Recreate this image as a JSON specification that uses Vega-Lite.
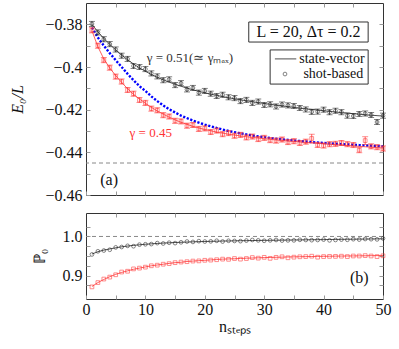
{
  "$schema": "https://vega.github.io/schema/vega-lite/v6.json",
  "padding": {"left": 8, "top": 2, "right": 5, "bottom": 5},
  "spacing": 8,
  "config": {
    "font": "Liberation Serif",
    "text": {"font": "Liberation Serif"},
    "view": {"stroke": "#333", "strokeWidth": 1},
    "axis": {"grid": false, "domain": false, "tickColor": "#999", "tickSize": -4, "labelFont": "Liberation Serif", "titleFont": "Liberation Serif", "labelFontSize": 16, "labelColor": "#111", "titleFontSize": 16, "titleFontWeight": "normal", "titleColor": "#111", "labelFlush": false, "labelOverlap": false, "labelBound": false}
  },
  "datasets": {
    "top": [
      {"n":1,"g":"b","sv":-0.3800,"s":-0.3798,"e":0.0012},{"n":2,"g":"b","sv":-0.3835,"s":-0.3838,"e":0.0012},{"n":3,"g":"b","sv":-0.3866,"s":-0.3870,"e":0.0012},{"n":4,"g":"b","sv":-0.3894,"s":-0.3893,"e":0.0012},{"n":5,"g":"b","sv":-0.3920,"s":-0.3918,"e":0.0012},
      {"n":6,"g":"b","sv":-0.3944,"s":-0.3947,"e":0.0012},{"n":7,"g":"b","sv":-0.3966,"s":-0.3962,"e":0.0012},{"n":8,"g":"b","sv":-0.3986,"s":-0.3995,"e":0.0012},{"n":9,"g":"b","sv":-0.4004,"s":-0.4000,"e":0.0012},{"n":10,"g":"b","sv":-0.4020,"s":-0.4010,"e":0.0012},
      {"n":11,"g":"b","sv":-0.4035,"s":-0.4030,"e":0.0012},{"n":12,"g":"b","sv":-0.4048,"s":-0.4044,"e":0.0012},{"n":13,"g":"b","sv":-0.4060,"s":-0.4062,"e":0.0012},{"n":14,"g":"b","sv":-0.4071,"s":-0.4058,"e":0.0012},{"n":15,"g":"b","sv":-0.4081,"s":-0.4085,"e":0.0012},
      {"n":16,"g":"b","sv":-0.4090,"s":-0.4076,"e":0.0012},{"n":17,"g":"b","sv":-0.4099,"s":-0.4105,"e":0.0012},{"n":18,"g":"b","sv":-0.4107,"s":-0.4098,"e":0.0012},{"n":19,"g":"b","sv":-0.4114,"s":-0.4120,"e":0.0012},{"n":20,"g":"b","sv":-0.4121,"s":-0.4112,"e":0.0012},
      {"n":21,"g":"b","sv":-0.4127,"s":-0.4125,"e":0.0012},{"n":22,"g":"b","sv":-0.4133,"s":-0.4136,"e":0.0012},{"n":23,"g":"b","sv":-0.4139,"s":-0.4130,"e":0.0012},{"n":24,"g":"b","sv":-0.4144,"s":-0.4142,"e":0.0012},{"n":25,"g":"b","sv":-0.4149,"s":-0.4146,"e":0.0012},
      {"n":26,"g":"b","sv":-0.4154,"s":-0.4160,"e":0.0012},{"n":27,"g":"b","sv":-0.4158,"s":-0.4154,"e":0.0012},{"n":28,"g":"b","sv":-0.4163,"s":-0.4168,"e":0.0012},{"n":29,"g":"b","sv":-0.4167,"s":-0.4162,"e":0.0012},{"n":30,"g":"b","sv":-0.4171,"s":-0.4178,"e":0.0012},
      {"n":31,"g":"b","sv":-0.4175,"s":-0.4175,"e":0.0012},{"n":32,"g":"b","sv":-0.4179,"s":-0.4185,"e":0.0012},{"n":33,"g":"b","sv":-0.4182,"s":-0.4176,"e":0.0012},{"n":34,"g":"b","sv":-0.4186,"s":-0.4180,"e":0.0012},{"n":35,"g":"b","sv":-0.4189,"s":-0.4183,"e":0.0012},
      {"n":36,"g":"b","sv":-0.4193,"s":-0.4192,"e":0.0012},{"n":37,"g":"b","sv":-0.4196,"s":-0.4199,"e":0.0012},{"n":38,"g":"b","sv":-0.4199,"s":-0.4210,"e":0.0012},{"n":39,"g":"b","sv":-0.4202,"s":-0.4209,"e":0.0012},{"n":40,"g":"b","sv":-0.4205,"s":-0.4200,"e":0.0012},
      {"n":41,"g":"b","sv":-0.4208,"s":-0.4212,"e":0.0012},{"n":42,"g":"b","sv":-0.4211,"s":-0.4205,"e":0.0012},{"n":43,"g":"b","sv":-0.4214,"s":-0.4212,"e":0.0012},{"n":44,"g":"b","sv":-0.4216,"s":-0.4228,"e":0.0012},{"n":45,"g":"b","sv":-0.4219,"s":-0.4230,"e":0.0012},
      {"n":46,"g":"b","sv":-0.4221,"s":-0.4220,"e":0.0012},{"n":47,"g":"b","sv":-0.4224,"s":-0.4218,"e":0.0012},{"n":48,"g":"b","sv":-0.4226,"s":-0.4225,"e":0.0012},{"n":49,"g":"b","sv":-0.4228,"s":-0.4258,"e":0.0012},{"n":50,"g":"b","sv":-0.4230,"s":-0.4228,"e":0.0012},
      {"n":1,"g":"r","sv":-0.3830,"s":-0.3828,"e":0.0012},{"n":2,"g":"r","sv":-0.3905,"s":-0.3900,"e":0.0012},{"n":3,"g":"r","sv":-0.3962,"s":-0.3968,"e":0.0012},{"n":4,"g":"r","sv":-0.4005,"s":-0.4003,"e":0.0012},{"n":5,"g":"r","sv":-0.4040,"s":-0.4045,"e":0.0012},
      {"n":6,"g":"r","sv":-0.4072,"s":-0.4068,"e":0.0012},{"n":7,"g":"r","sv":-0.4102,"s":-0.4108,"e":0.0012},{"n":8,"g":"r","sv":-0.4128,"s":-0.4125,"e":0.0012},{"n":9,"g":"r","sv":-0.4150,"s":-0.4155,"e":0.0012},{"n":10,"g":"r","sv":-0.4170,"s":-0.4168,"e":0.0012},
      {"n":11,"g":"r","sv":-0.4189,"s":-0.4195,"e":0.0012},{"n":12,"g":"r","sv":-0.4206,"s":-0.4203,"e":0.0012},{"n":13,"g":"r","sv":-0.4221,"s":-0.4226,"e":0.0012},{"n":14,"g":"r","sv":-0.4235,"s":-0.4232,"e":0.0012},{"n":15,"g":"r","sv":-0.4248,"s":-0.4252,"e":0.0012},
      {"n":16,"g":"r","sv":-0.4259,"s":-0.4255,"e":0.0012},{"n":17,"g":"r","sv":-0.4269,"s":-0.4275,"e":0.0012},{"n":18,"g":"r","sv":-0.4278,"s":-0.4272,"e":0.0012},{"n":19,"g":"r","sv":-0.4286,"s":-0.4290,"e":0.0012},{"n":20,"g":"r","sv":-0.4293,"s":-0.4288,"e":0.0012},
      {"n":21,"g":"r","sv":-0.4299,"s":-0.4305,"e":0.0012},{"n":22,"g":"r","sv":-0.4305,"s":-0.4298,"e":0.0012},{"n":23,"g":"r","sv":-0.4310,"s":-0.4315,"e":0.0012},{"n":24,"g":"r","sv":-0.4315,"s":-0.4310,"e":0.0012},{"n":25,"g":"r","sv":-0.4319,"s":-0.4322,"e":0.0012},
      {"n":26,"g":"r","sv":-0.4323,"s":-0.4318,"e":0.0012},{"n":27,"g":"r","sv":-0.4327,"s":-0.4330,"e":0.0012},{"n":28,"g":"r","sv":-0.4330,"s":-0.4326,"e":0.0012},{"n":29,"g":"r","sv":-0.4333,"s":-0.4338,"e":0.0012},{"n":30,"g":"r","sv":-0.4336,"s":-0.4332,"e":0.0012},
      {"n":31,"g":"r","sv":-0.4339,"s":-0.4343,"e":0.0012},{"n":32,"g":"r","sv":-0.4342,"s":-0.4345,"e":0.0012},{"n":33,"g":"r","sv":-0.4344,"s":-0.4340,"e":0.0012},{"n":34,"g":"r","sv":-0.4347,"s":-0.4352,"e":0.0012},{"n":35,"g":"r","sv":-0.4349,"s":-0.4348,"e":0.0012},
      {"n":36,"g":"r","sv":-0.4351,"s":-0.4356,"e":0.0012},{"n":37,"g":"r","sv":-0.4354,"s":-0.4350,"e":0.0012},{"n":38,"g":"r","sv":-0.4356,"s":-0.4335,"e":0.0020},{"n":39,"g":"r","sv":-0.4358,"s":-0.4365,"e":0.0012},{"n":40,"g":"r","sv":-0.4360,"s":-0.4368,"e":0.0012},
      {"n":41,"g":"r","sv":-0.4362,"s":-0.4362,"e":0.0012},{"n":42,"g":"r","sv":-0.4364,"s":-0.4360,"e":0.0012},{"n":43,"g":"r","sv":-0.4366,"s":-0.4356,"e":0.0012},{"n":44,"g":"r","sv":-0.4368,"s":-0.4362,"e":0.0012},{"n":45,"g":"r","sv":-0.4370,"s":-0.4366,"e":0.0012},
      {"n":46,"g":"r","sv":-0.4372,"s":-0.4390,"e":0.0012},{"n":47,"g":"r","sv":-0.4374,"s":-0.4345,"e":0.0018},{"n":48,"g":"r","sv":-0.4376,"s":-0.4372,"e":0.0012},{"n":49,"g":"r","sv":-0.4378,"s":-0.4376,"e":0.0012},{"n":50,"g":"r","sv":-0.4380,"s":-0.4382,"e":0.0012}
    ],
    "blue": [
      {"n":1,"v":-0.3815},{"n":2,"v":-0.3862},{"n":3,"v":-0.3900},{"n":4,"v":-0.3935},{"n":5,"v":-0.3968},{"n":6,"v":-0.4000},{"n":7,"v":-0.4032},{"n":8,"v":-0.4062},{"n":9,"v":-0.4090},{"n":10,"v":-0.4112},
      {"n":11,"v":-0.4138},{"n":12,"v":-0.4160},{"n":13,"v":-0.4180},{"n":14,"v":-0.4198},{"n":16,"v":-0.4228},{"n":18,"v":-0.4251},{"n":20,"v":-0.4270},{"n":22,"v":-0.4286},{"n":24,"v":-0.4300},{"n":26,"v":-0.4311},
      {"n":28,"v":-0.4321},{"n":30,"v":-0.4329},{"n":32,"v":-0.4336},{"n":34,"v":-0.4342},{"n":36,"v":-0.4347},{"n":38,"v":-0.4352},{"n":40,"v":-0.4356},{"n":42,"v":-0.4360},{"n":44,"v":-0.4363},{"n":46,"v":-0.4366},{"n":48,"v":-0.4369},{"n":50,"v":-0.4372}
    ],
    "bot": [
      {"n":1,"g":"b","sv":0.955,"s":0.954},{"n":2,"g":"b","sv":0.961,"s":0.962},{"n":3,"g":"b","sv":0.965,"s":0.964},{"n":4,"g":"b","sv":0.968,"s":0.966},{"n":5,"g":"b","sv":0.971,"s":0.972},
      {"n":6,"g":"b","sv":0.9735,"s":0.973},{"n":7,"g":"b","sv":0.9755,"s":0.976},{"n":8,"g":"b","sv":0.9772,"s":0.975},{"n":9,"g":"b","sv":0.9787,"s":0.979},{"n":10,"g":"b","sv":0.980,"s":0.980},
      {"n":11,"g":"b","sv":0.9811,"s":0.9805},{"n":12,"g":"b","sv":0.9821,"s":0.983},{"n":13,"g":"b","sv":0.983,"s":0.982},{"n":14,"g":"b","sv":0.9838,"s":0.984},{"n":15,"g":"b","sv":0.9845,"s":0.983},
      {"n":16,"g":"b","sv":0.9851,"s":0.985},{"n":17,"g":"b","sv":0.9857,"s":0.987},{"n":18,"g":"b","sv":0.9862,"s":0.986},{"n":19,"g":"b","sv":0.9867,"s":0.988},{"n":20,"g":"b","sv":0.9871,"s":0.987},
      {"n":21,"g":"b","sv":0.9875,"s":0.9875},{"n":22,"g":"b","sv":0.9879,"s":0.989},{"n":23,"g":"b","sv":0.9882,"s":0.987},{"n":24,"g":"b","sv":0.9885,"s":0.989},{"n":25,"g":"b","sv":0.9888,"s":0.9885},
      {"n":26,"g":"b","sv":0.9891,"s":0.988},{"n":27,"g":"b","sv":0.9893,"s":0.9895},{"n":28,"g":"b","sv":0.9896,"s":0.991},{"n":29,"g":"b","sv":0.9898,"s":0.990},{"n":30,"g":"b","sv":0.990,"s":0.989},
      {"n":31,"g":"b","sv":0.9902,"s":0.990},{"n":32,"g":"b","sv":0.9904,"s":0.991},{"n":33,"g":"b","sv":0.9906,"s":0.9895},{"n":34,"g":"b","sv":0.9908,"s":0.990},{"n":35,"g":"b","sv":0.991,"s":0.990},
      {"n":36,"g":"b","sv":0.9912,"s":0.9915},{"n":37,"g":"b","sv":0.9914,"s":0.991},{"n":38,"g":"b","sv":0.9916,"s":0.9905},{"n":39,"g":"b","sv":0.9918,"s":0.991},{"n":40,"g":"b","sv":0.992,"s":0.992},
      {"n":41,"g":"b","sv":0.9922,"s":0.990},{"n":42,"g":"b","sv":0.9924,"s":0.991},{"n":43,"g":"b","sv":0.9926,"s":0.992},{"n":44,"g":"b","sv":0.9928,"s":0.9915},{"n":45,"g":"b","sv":0.993,"s":0.993},
      {"n":46,"g":"b","sv":0.9932,"s":0.992},{"n":47,"g":"b","sv":0.9934,"s":0.9935},{"n":48,"g":"b","sv":0.9936,"s":0.993},{"n":49,"g":"b","sv":0.9938,"s":0.9925},{"n":50,"g":"b","sv":0.994,"s":0.995},
      {"n":1,"g":"r","sv":0.872,"s":0.871},{"n":2,"g":"r","sv":0.882,"s":0.882},{"n":3,"g":"r","sv":0.890,"s":0.891},{"n":4,"g":"r","sv":0.897,"s":0.896},{"n":5,"g":"r","sv":0.903,"s":0.902},
      {"n":6,"g":"r","sv":0.908,"s":0.909},{"n":7,"g":"r","sv":0.912,"s":0.911},{"n":8,"g":"r","sv":0.916,"s":0.917},{"n":9,"g":"r","sv":0.919,"s":0.919},{"n":10,"g":"r","sv":0.922,"s":0.9215},
      {"n":11,"g":"r","sv":0.925,"s":0.925},{"n":12,"g":"r","sv":0.927,"s":0.9265},{"n":13,"g":"r","sv":0.929,"s":0.929},{"n":14,"g":"r","sv":0.931,"s":0.9305},{"n":15,"g":"r","sv":0.933,"s":0.933},
      {"n":16,"g":"r","sv":0.934,"s":0.9345},{"n":17,"g":"r","sv":0.936,"s":0.9355},{"n":18,"g":"r","sv":0.937,"s":0.937},{"n":19,"g":"r","sv":0.938,"s":0.9375},{"n":20,"g":"r","sv":0.939,"s":0.939},
      {"n":21,"g":"r","sv":0.940,"s":0.9395},{"n":22,"g":"r","sv":0.941,"s":0.9405},{"n":23,"g":"r","sv":0.942,"s":0.942},{"n":24,"g":"r","sv":0.9425,"s":0.9415},{"n":25,"g":"r","sv":0.943,"s":0.9435},
      {"n":26,"g":"r","sv":0.9437,"s":0.942},{"n":27,"g":"r","sv":0.9443,"s":0.9435},{"n":28,"g":"r","sv":0.9449,"s":0.946},{"n":29,"g":"r","sv":0.9454,"s":0.9445},{"n":30,"g":"r","sv":0.9459,"s":0.9465},
      {"n":31,"g":"r","sv":0.9463,"s":0.944},{"n":32,"g":"r","sv":0.9467,"s":0.9465},{"n":33,"g":"r","sv":0.9471,"s":0.948},{"n":34,"g":"r","sv":0.9475,"s":0.9455},{"n":35,"g":"r","sv":0.9478,"s":0.947},
      {"n":36,"g":"r","sv":0.9481,"s":0.948},{"n":37,"g":"r","sv":0.9484,"s":0.9485},{"n":38,"g":"r","sv":0.9487,"s":0.9495},{"n":39,"g":"r","sv":0.949,"s":0.947},{"n":40,"g":"r","sv":0.9492,"s":0.9485},
      {"n":41,"g":"r","sv":0.9494,"s":0.949},{"n":42,"g":"r","sv":0.9496,"s":0.949},{"n":43,"g":"r","sv":0.9498,"s":0.9495},{"n":44,"g":"r","sv":0.950,"s":0.9485},{"n":45,"g":"r","sv":0.9502,"s":0.950},
      {"n":46,"g":"r","sv":0.9504,"s":0.950},{"n":47,"g":"r","sv":0.9506,"s":0.951},{"n":48,"g":"r","sv":0.9508,"s":0.950},{"n":49,"g":"r","sv":0.951,"s":0.9485},{"n":50,"g":"r","sv":0.9512,"s":0.9505}
    ]
  },
  "vconcat": [
    {
      "width": 297,
      "height": 192,
      "layer": [
        {
          "data": {"values": [{"y": -0.445}]},
          "mark": {"type": "rule", "color": "#888", "strokeDash": [4, 3], "strokeWidth": 1},
          "encoding": {"y": {"field": "y", "type": "quantitative", "scale": {"domain": [-0.46, -0.37]}, "axis": null}}
        },
        {
          "data": {"name": "blue"},
          "mark": {"type": "line", "color": "#0000ff", "strokeWidth": 2.4, "strokeDash": [2.2, 1.6]},
          "encoding": {
            "x": {"field": "n", "type": "quantitative", "scale": {"domain": [0, 50]}, "axis": null},
            "y": {"field": "v", "type": "quantitative", "axis": null}
          }
        },
        {
          "data": {"name": "top"},
          "transform": [{"filter": "datum.g == 'b'"}],
          "mark": {"type": "line", "color": "#222", "strokeWidth": 0.8},
          "encoding": {
            "x": {"field": "n", "type": "quantitative", "axis": {"orient": "bottom", "values": [0,5,10,15,20,25,30,35,40,45,50], "labels": false, "title": null}},
            "y": {"field": "sv", "type": "quantitative", "axis": {"orient": "left", "values": [-0.46,-0.45,-0.44,-0.43,-0.42,-0.41,-0.4,-0.39,-0.38], "labelExpr": "abs(round(datum.value*100))%2==0 ? format(datum.value,'~g') : ''", "labelPadding": 8, "title": "E₀/L", "titleFontStyle": "italic", "titleX": -61}}
          }
        },
        {
          "data": {"name": "top"},
          "transform": [{"filter": "datum.g == 'r'"}],
          "mark": {"type": "line", "color": "#ff3333", "strokeWidth": 0.8},
          "encoding": {
            "x": {"field": "n", "type": "quantitative", "axis": {"orient": "top", "values": [5,10,15,20,25,30,35,40,45], "labels": false, "title": null}},
            "y": {"field": "sv", "type": "quantitative", "axis": {"orient": "right", "values": [-0.45,-0.44,-0.43,-0.42,-0.41,-0.4,-0.39,-0.38], "labels": false, "title": null}}
          }
        },
        {
          "data": {"name": "top"},
          "transform": [{"filter": "datum.g == 'b'"}],
          "mark": {"type": "errorbar", "color": "#222", "ticks": {"size": 6, "color": "#222"}, "thickness": 0.8},
          "encoding": {
            "x": {"field": "n", "type": "quantitative", "axis": null},
            "y": {"field": "s", "type": "quantitative", "axis": null},
            "yError": {"field": "e"}
          }
        },
        {
          "data": {"name": "top"},
          "transform": [{"filter": "datum.g == 'r'"}],
          "mark": {"type": "errorbar", "color": "#ff3333", "ticks": {"size": 6, "color": "#ff3333"}, "thickness": 0.8},
          "encoding": {
            "x": {"field": "n", "type": "quantitative", "axis": null},
            "y": {"field": "s", "type": "quantitative", "axis": null},
            "yError": {"field": "e"}
          }
        },
        {
          "data": {"name": "top"},
          "transform": [{"filter": "datum.g == 'b'"}],
          "mark": {"type": "point", "shape": "circle", "filled": false, "color": "#222", "size": 14, "strokeWidth": 0.8},
          "encoding": {
            "x": {"field": "n", "type": "quantitative", "axis": null},
            "y": {"field": "s", "type": "quantitative", "axis": null}
          }
        },
        {
          "data": {"name": "top"},
          "transform": [{"filter": "datum.g == 'r'"}],
          "mark": {"type": "point", "shape": "square", "filled": false, "color": "#ff3333", "size": 14, "strokeWidth": 0.8},
          "encoding": {
            "x": {"field": "n", "type": "quantitative", "axis": null},
            "y": {"field": "s", "type": "quantitative", "axis": null}
          }
        },
        {
          "data": {"values": [{"x1": 27.4, "x2": 47.5, "y1": -0.3789, "y2": -0.3883}, {"x1": 31.0, "x2": 47.5, "y1": -0.392, "y2": -0.408}]},
          "mark": {"type": "rect", "fill": "white", "stroke": "#333", "strokeWidth": 1},
          "encoding": {
            "x": {"field": "x1", "type": "quantitative", "axis": null},
            "x2": {"field": "x2"},
            "y": {"field": "y1", "type": "quantitative", "axis": null},
            "y2": {"field": "y2"}
          }
        },
        {
          "data": {"values": [{"x1": 31.8, "x2": 35.4, "y": -0.3962}]},
          "mark": {"type": "rule", "color": "#222", "strokeWidth": 0.8},
          "encoding": {
            "x": {"field": "x1", "type": "quantitative", "axis": null},
            "x2": {"field": "x2"},
            "y": {"field": "y", "type": "quantitative", "axis": null}
          }
        },
        {
          "data": {"values": [{"x": 33.5, "y": -0.4033}]},
          "mark": {"type": "point", "shape": "circle", "filled": false, "color": "#222", "size": 14, "strokeWidth": 0.8},
          "encoding": {
            "x": {"field": "x", "type": "quantitative", "axis": null},
            "y": {"field": "y", "type": "quantitative", "axis": null}
          }
        },
        {
          "data": {"values": [{"x": 35.9, "y": -0.3962, "t": "state-vector"}, {"x": 36.6, "y": -0.4033, "t": "shot-based"}]},
          "mark": {"type": "text", "font": "Liberation Serif", "align": "left", "baseline": "middle", "fontSize": 14, "color": "#111"},
          "encoding": {
            "x": {"field": "x", "type": "quantitative", "axis": null},
            "y": {"field": "y", "type": "quantitative", "axis": null},
            "text": {"field": "t"}
          }
        },
        {
          "data": {"values": [{"x": 37.45, "y": -0.3836, "t": "L = 20, Δτ = 0.2"}]},
          "mark": {"type": "text", "font": "Liberation Serif", "align": "center", "baseline": "middle", "fontSize": 16, "color": "#111"},
          "encoding": {
            "x": {"field": "x", "type": "quantitative", "axis": null},
            "y": {"field": "y", "type": "quantitative", "axis": null},
            "text": {"field": "t"}
          }
        },
        {
          "data": {"values": [{"x": 17.5, "y": -0.396, "t": "γ = 0.51(≃ γₘₐₓ)"}]},
          "mark": {"type": "text", "font": "Liberation Serif", "align": "center", "baseline": "middle", "fontSize": 13, "color": "#333"},
          "encoding": {
            "x": {"field": "x", "type": "quantitative", "axis": null},
            "y": {"field": "y", "type": "quantitative", "axis": null},
            "text": {"field": "t"}
          }
        },
        {
          "data": {"values": [{"x": 10.9, "y": -0.4309, "t": "γ = 0.45"}]},
          "mark": {"type": "text", "font": "Liberation Serif", "align": "center", "baseline": "middle", "fontSize": 13, "color": "#ff3333"},
          "encoding": {
            "x": {"field": "x", "type": "quantitative", "axis": null},
            "y": {"field": "y", "type": "quantitative", "axis": null},
            "text": {"field": "t"}
          }
        },
        {
          "data": {"values": [{"x": 3.9, "y": -0.4530, "t": "(a)"}]},
          "mark": {"type": "text", "font": "Liberation Serif", "align": "center", "baseline": "middle", "fontSize": 16, "color": "#111"},
          "encoding": {
            "x": {"field": "x", "type": "quantitative", "axis": null},
            "y": {"field": "y", "type": "quantitative", "axis": null},
            "text": {"field": "t"}
          }
        }
      ]
    },
    {
      "width": 297,
      "height": 86,
      "layer": [
        {
          "data": {"values": [{"y": 1.0}]},
          "mark": {"type": "rule", "color": "#888", "strokeDash": [4, 3], "strokeWidth": 1},
          "encoding": {"y": {"field": "y", "type": "quantitative", "scale": {"domain": [0.85, 1.05]}, "axis": null}}
        },
        {
          "data": {"name": "bot"},
          "transform": [{"filter": "datum.g == 'b'"}],
          "mark": {"type": "line", "color": "#222", "strokeWidth": 0.8},
          "encoding": {
            "x": {"field": "n", "type": "quantitative", "scale": {"domain": [0, 50]}, "axis": {"orient": "bottom", "values": [0,5,10,15,20,25,30,35,40,45,50], "labelExpr": "datum.value % 10 == 0 ? datum.value : ''", "labelPadding": 6, "title": "nₛₜₑₚₛ", "titleY": 19}},
            "y": {"field": "sv", "type": "quantitative", "axis": {"orient": "left", "values": [0.875,0.9,0.925,0.95,0.975,1.0,1.025], "labelExpr": "abs(round(datum.value*1000))%100==0 ? format(datum.value,'.1f') : ''", "labelPadding": 8, "title": "ℙ₀", "titleX": -39}}
          }
        },
        {
          "data": {"name": "bot"},
          "transform": [{"filter": "datum.g == 'r'"}],
          "mark": {"type": "line", "color": "#ff3333", "strokeWidth": 0.8},
          "encoding": {
            "x": {"field": "n", "type": "quantitative", "axis": {"orient": "top", "values": [5,10,15,20,25,30,35,40,45], "labels": false, "title": null}},
            "y": {"field": "sv", "type": "quantitative", "axis": {"orient": "right", "values": [0.875,0.9,0.925,0.95,0.975,1.0,1.025], "labels": false, "title": null}}
          }
        },
        {
          "data": {"name": "bot"},
          "transform": [{"filter": "datum.g == 'b'"}],
          "mark": {"type": "point", "shape": "circle", "filled": false, "color": "#222", "size": 14, "strokeWidth": 0.8},
          "encoding": {
            "x": {"field": "n", "type": "quantitative", "axis": null},
            "y": {"field": "s", "type": "quantitative", "axis": null}
          }
        },
        {
          "data": {"name": "bot"},
          "transform": [{"filter": "datum.g == 'r'"}],
          "mark": {"type": "point", "shape": "square", "filled": false, "color": "#ff3333", "size": 14, "strokeWidth": 0.8},
          "encoding": {
            "x": {"field": "n", "type": "quantitative", "axis": null},
            "y": {"field": "s", "type": "quantitative", "axis": null}
          }
        },
        {
          "data": {"values": [{"x": 46, "y": 0.893, "t": "(b)"}]},
          "mark": {"type": "text", "font": "Liberation Serif", "align": "center", "baseline": "middle", "fontSize": 16, "color": "#111"},
          "encoding": {
            "x": {"field": "x", "type": "quantitative", "axis": null},
            "y": {"field": "y", "type": "quantitative", "axis": null},
            "text": {"field": "t"}
          }
        }
      ]
    }
  ]
}
